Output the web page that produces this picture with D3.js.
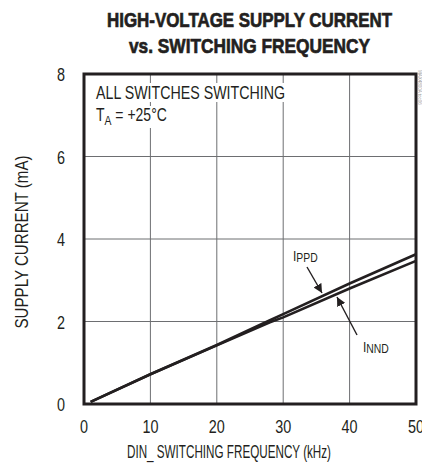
<!DOCTYPE html>
<html>
<head>
<meta charset="utf-8">
<script src="https://cdn.jsdelivr.net/npm/d3@7"></script>
<style>
  body { margin: 0; background: #fff; }
  text { font-family: "Liberation Sans", Arial, sans-serif; fill: #231f20; }
  .title { font-weight: bold; font-size: 21px; stroke: #231f20; stroke-width: 0.7; }
  .grid line { stroke: #6d6e71; stroke-width: 1; }
  .tick-label { font-size: 18px; }
  .axis-title { font-size: 17.5px; }
  .note { font-size: 17.5px; }
  .lbl { font-size: 15px; }
  .data-line { fill: none; stroke: #231f20; stroke-width: 2.6; }
</style>
</head>
<body>
<div id="chart"></div>
<script>
// data (kHz, mA)
var freqPPD = [1, 10, 20, 28, 30, 40, 50];
var currPPD = [0.05, 0.72, 1.43, 2.03, 2.18, 2.92, 3.63];
var freqNND = [1, 10, 20, 28, 30, 40, 50];
var currNND = [0.05, 0.72, 1.42, 1.98, 2.1, 2.8, 3.47];
var xTicks = [0, 10, 20, 30, 40, 50];
var yTicks = [0, 2, 4, 6, 8];

var margin = {top: 74, right: 6, bottom: 59, left: 84};
var width = 422 - margin.left - margin.right,
    height = 463 - margin.top - margin.bottom;

var svg = d3.select("#chart").append("svg")
    .attr("width", 422)
    .attr("height", 463);

// squeeze a plain text to a condensed look
function narrow(sel, w) {
    sel.each(function() {
        var len = w || this.getComputedTextLength() * 0.8;
        d3.select(this).attr("textLength", len).attr("lengthAdjust", "spacingAndGlyphs");
    });
}

// title
svg.append("text").attr("class", "title")
    .attr("x", 249.5).attr("y", 27).attr("text-anchor", "middle")
    .text("HIGH-VOLTAGE SUPPLY CURRENT").call(narrow, 285);
svg.append("text").attr("class", "title")
    .attr("x", 249.5).attr("y", 53).attr("text-anchor", "middle")
    .text("vs. SWITCHING FREQUENCY").call(narrow, 241);

var g = svg.append("g")
    .attr("transform", "translate(" + margin.left + "," + margin.top + ")");

var x = d3.scaleLinear().domain([0, 50]).range([0, width]);
var y = d3.scaleLinear().domain([0, 8]).range([height, 0]);

// grid
var grid = g.append("g").attr("class", "grid");
grid.selectAll(".vg").data(xTicks.slice(1, -1)).enter().append("line")
    .attr("x1", function(d) { return x(d); }).attr("x2", function(d) { return x(d); })
    .attr("y1", 0).attr("y2", height);
grid.selectAll(".hg").data(yTicks.slice(1, -1)).enter().append("line")
    .attr("y1", function(d) { return y(d); }).attr("y2", function(d) { return y(d); })
    .attr("x1", 0).attr("x2", width);

// tick labels
g.selectAll(".xl").data(xTicks).enter().append("text")
    .attr("class", "tick-label")
    .attr("x", function(d) { return x(d); })
    .attr("y", height + 29)
    .attr("text-anchor", "middle")
    .text(function(d) { return d; })
    .call(narrow);
g.selectAll(".yl").data(yTicks).enter().append("text")
    .attr("class", "tick-label")
    .attr("x", -19)
    .attr("y", function(d) { return y(d) + 7; })
    .attr("text-anchor", "end")
    .text(function(d) { return d; })
    .call(narrow);

// axis titles
g.append("text").attr("class", "axis-title")
    .attr("x", (127 + 331) / 2 - margin.left).attr("y", height + 54)
    .attr("text-anchor", "middle")
    .text("DIN_ SWITCHING FREQUENCY (kHz)").call(narrow, 204);
g.append("text").attr("class", "axis-title")
    .attr("transform", "translate(" + (28 - margin.left) + "," + (242 - margin.top) + ") rotate(-90)")
    .attr("text-anchor", "middle")
    .text("SUPPLY CURRENT (mA)").call(narrow, 173);

// note box
g.append("rect").attr("x", 6).attr("y", 9).attr("width", 200).attr("height", 19).attr("fill", "#fff");
g.append("rect").attr("x", 6).attr("y", 32).attr("width", 72).attr("height", 22).attr("fill", "#fff");
g.append("text").attr("class", "note")
    .attr("x", 96 - margin.left).attr("y", 99 - margin.top)
    .text("ALL SWITCHES SWITCHING").call(narrow, 189);

// subscripted labels: condensed by scaling the group
function subText(px, py, main, sub, rest, cls, subSize, drop) {
    var t = g.append("g")
        .attr("transform", "translate(" + (px - margin.left) + "," + (py - margin.top) + ") scale(0.8,1)")
        .append("text").attr("class", cls);
    t.append("tspan").text(main);
    t.append("tspan").attr("dy", drop).attr("font-size", subSize).text(sub);
    if (rest) t.append("tspan").attr("dy", -drop).text(rest);
    return t;
}
subText(96, 121, "T", "A", " = +25°C", "note", 13, 4);

// data lines
var line = d3.line()
    .x(function(d) { return x(d[0]); })
    .y(function(d) { return y(d[1]); });

g.append("path").attr("class", "data-line")
    .attr("d", line(d3.zip(freqNND, currNND)));
g.append("path").attr("class", "data-line")
    .attr("d", line(d3.zip(freqPPD, currPPD)));

// arrows + labels
svg.append("defs").append("marker")
    .attr("id", "arrow")
    .attr("viewBox", "0 0 10 10")
    .attr("refX", 10).attr("refY", 5)
    .attr("markerWidth", 9).attr("markerHeight", 9)
    .attr("markerUnits", "userSpaceOnUse")
    .attr("orient", "auto")
    .append("path").attr("d", "M0,0 L10,5 L0,10 Z").attr("fill", "#231f20");

function label(px, py, sub, ax1, ay1, ax2, ay2) {
    subText(px, py, "I", sub, null, "lbl", 13, 1);
    g.append("line")
        .attr("x1", ax1 - margin.left).attr("y1", ay1 - margin.top)
        .attr("x2", ax2 - margin.left).attr("y2", ay2 - margin.top)
        .attr("stroke", "#231f20").attr("stroke-width", 1.4)
        .attr("marker-end", "url(#arrow)");
}
label(293, 261, "PPD", 307, 267, 322, 293);
label(363, 352, "NND", 357, 335, 337, 297);

// frame
g.append("rect")
    .attr("x", 0).attr("y", 0).attr("width", width).attr("height", height)
    .attr("fill", "none").attr("stroke", "#231f20").attr("stroke-width", 3);

// tiny figure id
svg.append("text")
    .attr("transform", "translate(418,70) rotate(90)")
    .attr("font-size", 4.5).style("fill", "#999")
    .text("MAX4800A toc06");
</script>
</body>
</html>
